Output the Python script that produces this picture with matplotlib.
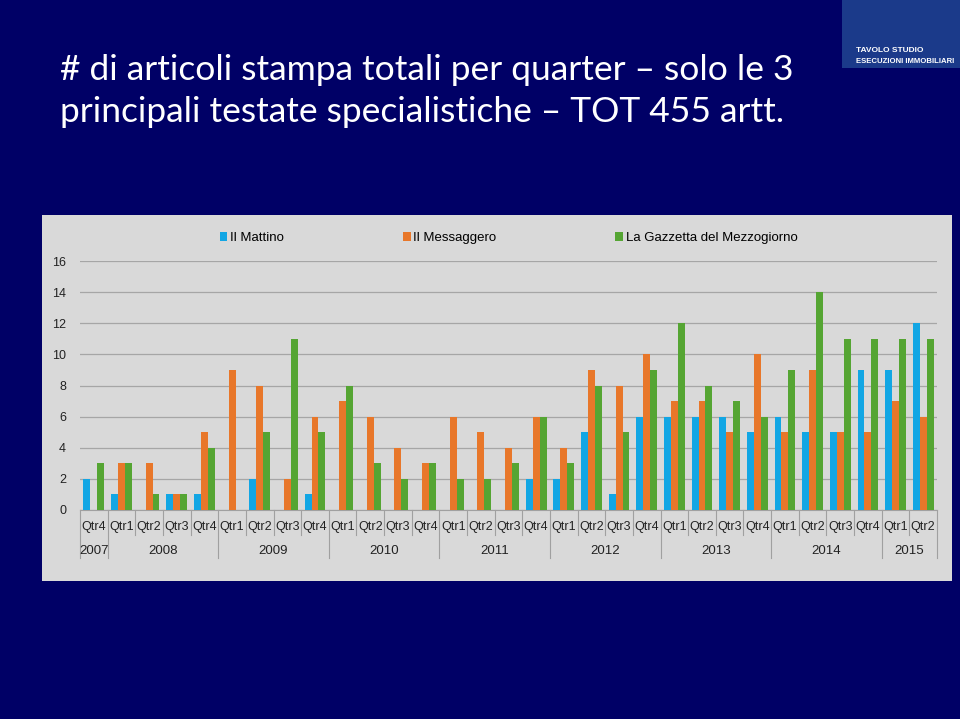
import numpy as np
import matplotlib.pyplot as plt
from matplotlib.patches import Rectangle

years = ["2007", "2008", "2009", "2010", "2011", "2012", "2013", "2014", "2015"]
quarters_per_year = [1, 4, 4, 4, 4, 4, 4, 4, 2]
quarter_labels = ["Qtr4",
                  "Qtr1", "Qtr2", "Qtr3", "Qtr4",
                  "Qtr1", "Qtr2", "Qtr3", "Qtr4",
                  "Qtr1", "Qtr2", "Qtr3", "Qtr4",
                  "Qtr1", "Qtr2", "Qtr3", "Qtr4",
                  "Qtr1", "Qtr2", "Qtr3", "Qtr4",
                  "Qtr1", "Qtr2", "Qtr3", "Qtr4",
                  "Qtr1", "Qtr2", "Qtr3", "Qtr4",
                  "Qtr1", "Qtr2"]

mattino = [2, 1, 0, 1, 1, 0, 2, 0, 1, 0, 0, 0, 0, 0, 0, 0, 2,
           2, 5, 1, 6, 6, 6, 6, 5, 6, 5, 5, 9, 9, 12]
messaggero = [0, 3, 3, 1, 5, 9, 8, 2, 6, 7, 6, 4, 3, 6, 5, 4, 6,
              4, 9, 8, 10, 7, 7, 5, 10, 5, 9, 5, 5, 7, 6]
gazzetta = [3, 3, 1, 1, 4, 0, 5, 11, 5, 8, 3, 2, 3, 2, 2, 3, 6,
            3, 8, 5, 9, 12, 8, 7, 6, 9, 14, 11, 11, 11, 11]

series_names = ["Il Mattino", "Il Messaggero", "La Gazzetta del Mezzogiorno"]
colors = ["#12A6E4", "#E8772A", "#55A533"]

W, H = 960, 719
fig = plt.figure(figsize=(9.6, 7.19), dpi=100)
fig.patch.set_facecolor("#000066")

# light grey chart panel, behind the axes
fig.patches.append(Rectangle((42 / W, 1 - 581 / H), 910 / W, 366 / H,
                             transform=fig.transFigure, facecolor="#D9D9D9",
                             edgecolor="none", zorder=-5))

# logo box
fig.patches.append(Rectangle((842 / W, 1 - 68 / H), 118 / W, 68 / H,
                             transform=fig.transFigure, facecolor="#1B3A8A",
                             edgecolor="none", zorder=-5))
fig.text(856 / W, 1 - 52 / H, "TAVOLO STUDIO", color="white", fontsize=6,
         fontweight="bold", family="Liberation Sans")
fig.text(856 / W, 1 - 63 / H, "ESECUZIONI IMMOBILIARI", color="white", fontsize=5.6,
         fontweight="bold", family="Liberation Sans")

fig.text(60 / W, 1 - 80 / H,
         "# di articoli stampa totali per quarter \u2013 solo le 3",
         color="white", fontsize=25.5, family="Lato", va="baseline")
fig.text(60 / W, 1 - 122 / H,
         "principali testate specialistiche \u2013 TOT 455 artt.",
         color="white", fontsize=25.5, family="Lato", va="baseline")

ax = fig.add_axes([80 / W, 1 - 510 / H, 857 / W, 249 / H])
ax.set_facecolor("none")

n = len(quarter_labels)
x = np.arange(n)
bw = 0.25
ax.bar(x - bw, mattino, bw, color=colors[0], label=series_names[0], zorder=3)
ax.bar(x, messaggero, bw, color=colors[1], label=series_names[1], zorder=3)
ax.bar(x + bw, gazzetta, bw, color=colors[2], label=series_names[2], zorder=3)

ax.set_xlim(-0.5, n - 0.5)
ax.set_ylim(0, 16)
ax.set_yticks(range(0, 17, 2))
ax.yaxis.grid(True, color="#A6A6A6", linewidth=0.9)
ax.set_axisbelow(True)
for s in ["top", "right", "left"]:
    ax.spines[s].set_visible(False)
ax.spines["bottom"].set_color("#A0A0A0")
ax.tick_params(axis="y", length=0, pad=10, labelsize=9, colors="#222222")
ax.tick_params(axis="x", length=0, pad=8, labelsize=9, colors="#222222")
ax.set_xticks(x)
ax.set_xticklabels(quarter_labels)
for lab in ax.get_xticklabels() + ax.get_yticklabels():
    lab.set_family("Liberation Sans")

# multi-level category separators
trans = ax.get_xaxis_transform()
ylo_q = -25 / 249
ylo_y = -48 / 249
bounds = np.cumsum([0] + quarters_per_year) - 0.5
for i in range(n + 1):
    b = i - 0.5
    low = ylo_y if b in bounds else ylo_q
    ax.plot([b, b], [0, low], transform=trans, color="#A0A0A0", lw=0.8, clip_on=False)
for yr, a, b in zip(years, bounds[:-1], bounds[1:]):
    ax.text((a + b) / 2, -41 / 249, yr, transform=trans, ha="center", va="center",
            fontsize=9.5, family="Liberation Sans", color="#222222")

leg = ax.legend(loc="center", bbox_to_anchor=(0.5, 1 + 23 / 249), ncol=3, frameon=False,
                handlelength=0.6, handleheight=0.6, handletextpad=0.2,
                columnspacing=9, prop={"family": "Liberation Sans", "size": 9.5})

fig.savefig("out.png", dpi=100, facecolor=fig.get_facecolor())
